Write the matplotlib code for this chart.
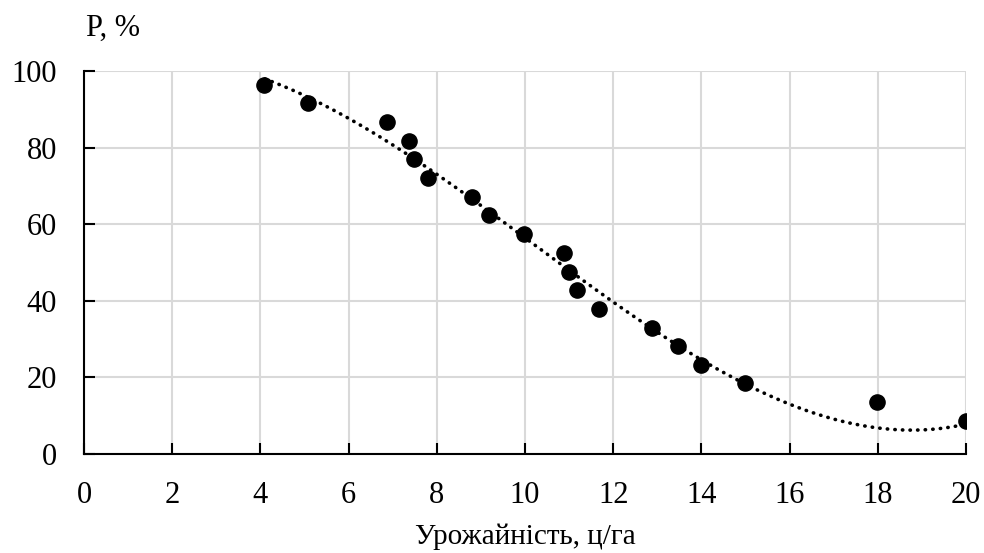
import numpy as np
import matplotlib
matplotlib.use("Agg")
import matplotlib.pyplot as plt

plt.rcParams['font.family'] = ['Liberation Serif', 'DejaVu Serif']

# Yield (c/ha) and probability P (%)
yield_cha = [4.07, 5.09, 6.88, 7.38, 7.48, 7.79, 8.79, 9.19, 9.98, 10.88,
             10.99, 11.19, 11.68, 12.89, 13.48, 13.99, 14.99, 17.99, 19.99]
prob_pct = [96.3, 91.6, 86.6, 81.8, 76.9, 72.1, 67.2, 62.4, 57.4, 52.6,
            47.6, 42.8, 37.9, 33.0, 28.2, 23.2, 18.5, 13.5, 8.7]

# dotted polynomial trendline, sampled off the chart
trend_x = [4.1, 4.44, 5.28, 5.96, 6.60, 7.07, 8.0, 9.68, 10.28, 10.73, 11.34,
           11.94, 12.55, 14.35, 15.97, 16.84, 17.97, 18.88, 19.64, 19.99]
trend_y = [97.8, 96.5, 92.0, 88.1, 83.7, 80.1, 72.8, 59.2, 54.1, 50.3, 45.2,
           40.2, 35.2, 22.1, 13.2, 9.6, 7.0, 6.3, 7.0, 7.7]

x_ticks = list(range(0, 21, 2))
y_ticks = list(range(0, 101, 20))

fig = plt.figure(figsize=(9.84, 5.53), dpi=100)
ax = fig.add_axes([0.0854, 0.179, 0.8963, 0.6926])

coef = np.polyfit(trend_x, trend_y, 3)
xs = np.linspace(trend_x[0], trend_x[-1], 300)
ax.plot(xs, np.polyval(coef, xs), color='black', linewidth=2.6,
        linestyle=(0, (0.1, 2.0)), dash_capstyle='round', zorder=2)

ax.scatter(yield_cha, prob_pct, s=120, color='black', zorder=3)

ax.set_xlim(0, 20)
ax.set_ylim(0, 100)
ax.set_xticks(x_ticks)
ax.set_yticks(y_ticks)
ax.grid(True, color='#d9d9d9', linewidth=1.5, zorder=0)
ax.set_axisbelow(True)

for s in ['top', 'right']:
    ax.spines[s].set_visible(False)
for s in ['left', 'bottom']:
    ax.spines[s].set_color('black')
    ax.spines[s].set_linewidth(1.5)

ax.tick_params(direction='in', length=8, width=1.5, labelsize=22, pad=19.5)

ax.set_xlabel('Урожайність, ц/га', fontsize=21, labelpad=10)
fig.text(0.115, 0.948, 'P, %', fontsize=22, ha='center', va='center')

fig.savefig('out.png', dpi=100)
